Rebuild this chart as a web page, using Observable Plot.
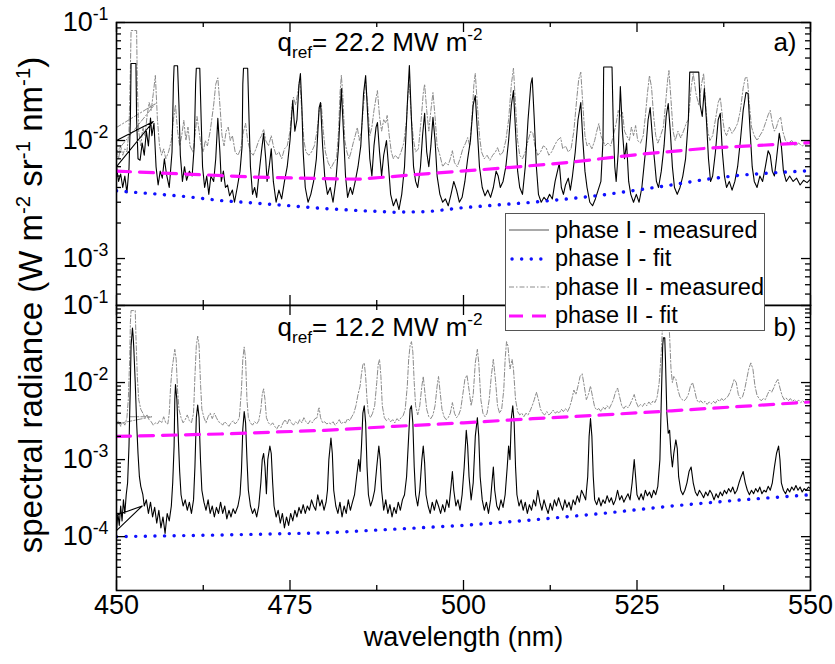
<!DOCTYPE html>
<html>
<head>
<meta charset="utf-8">
<script src="https://cdn.jsdelivr.net/npm/d3@7"></script>
<script src="https://cdn.jsdelivr.net/npm/@observablehq/plot@0.6"></script>
<style>
  html, body { margin: 0; padding: 0; background: #fff; }
  #chart { position: relative; width: 835px; height: 664px; font-family: "Liberation Sans", Arial, sans-serif; color: #000; overflow: hidden; }
  #chart svg { position: absolute; left: 0; font-family: "Liberation Sans", Arial, sans-serif; }
  #ytitle { position: absolute; left: 30px; top: 305px; transform: translate(-50%, -50%) rotate(-90deg); white-space: nowrap; font-size: 33px; line-height: 1; }
  #ytitle sup { font-size: 0.62em; vertical-align: 0.6em; }
  #legend { position: absolute; left: 505px; top: 213px; width: 260px; height: 118px; background: #fff; border: 1px solid #555; box-sizing: border-box; font-size: 23.5px; }
  .lrow { position: absolute; left: 0; height: 28px; display: flex; align-items: center; white-space: nowrap; }
  .lrow svg { position: static !important; margin-left: 3px; margin-right: 6px; }
</style>
</head>
<body>
<div id="chart"></div>
<script>
// ---------------- data ----------------
const xTickLabels = [450, 475, 500, 525, 550];
const xMinorTicks = [462.5, 487.5, 512.5, 537.5];
const yTicksTop = [1e-3, 1e-2, 1e-1];
const yTicksBottom = [1e-4, 1e-3, 1e-2, 1e-1];
const yDomainTop = [4e-4, 1e-1];
const yDomainBottom = [2e-5, 1e-1];
const seriesNames = ["phase I - measured", "phase I - fit", "phase II - measured", "phase II - fit"];
const panelLabels = ["a)", "b)"];
const fluxLabels = ["q_{ref}= 22.2 MW m^{-2}", "q_{ref}= 12.2 MW m^{-2}"];
const xTitle = "wavelength (nm)";

// panel a) phase I measured [wavelength nm, radiance]
const topPhaseI = [[450.0,0.0100],[455.3,0.0145],
[450.0,0.0060],[450.3,0.0045],[450.6,0.0052],[450.9,0.0040],[451.2,0.0050],[451.5,0.0036],[451.8,0.0058],[452.0,0.0150],[452.1,0.045],[452.8,0.045],[452.9,0.015],[453.1,0.0070],[453.4,0.0068],[453.7,0.0095],[454.0,0.0075],[454.3,0.0120],[454.6,0.0090],[454.9,0.0155],[455.1,0.0110],[455.4,0.0140],[455.7,0.0060],[456.0,0.0042],[456.3,0.0055],[456.6,0.0048],[456.9,0.0070],[457.2,0.0052],[457.6,0.0040],[458.0,0.0080],[458.2,0.030],[458.3,0.043],[458.8,0.043],[459.0,0.020],[459.2,0.0075],[459.5,0.0045],[459.8,0.0060],[460.1,0.0046],[460.5,0.0055],[460.9,0.0050],[461.2,0.0090],[461.4,0.030],[461.5,0.041],[462.0,0.041],[462.2,0.015],[462.4,0.0060],[462.7,0.0040],[463.0,0.0050],[463.3,0.0035],[463.6,0.0050],[464.0,0.0045],[464.3,0.0070],[464.6,0.0154],[464.9,0.0080],[465.1,0.0045],[465.4,0.0055],[465.7,0.0040],[466.0,0.0042],[466.3,0.0034],[466.7,0.0038],[467.0,0.0030],[467.4,0.0040],[467.8,0.0055],[468.1,0.0090],[468.2,0.030],[468.3,0.041],[468.9,0.041],[469.1,0.015],[469.3,0.0060],[469.6,0.0035],[469.9,0.0040],[470.2,0.0033],[470.5,0.0050],[470.9,0.0082],[471.2,0.0115],[471.5,0.0070],[471.7,0.0045],[472.0,0.0060],[472.3,0.0085],[472.6,0.0045],[473.0,0.0030],[473.4,0.0038],[473.8,0.0032],[474.2,0.0045],[474.6,0.0060],[475.0,0.0100],[475.4,0.0218],[475.7,0.0120],[476.0,0.0150],[476.3,0.0300],[476.5,0.0370],[476.7,0.0200],[476.9,0.0080],[477.2,0.0040],[477.6,0.0030],[478.0,0.0035],[478.4,0.0045],[478.8,0.0070],[479.2,0.0190],[479.4,0.0210],[479.7,0.0090],[480.0,0.0050],[480.4,0.0035],[480.8,0.0040],[481.2,0.0030],[481.6,0.0045],[482.0,0.0090],[482.4,0.0275],[482.7,0.0120],[483.0,0.0050],[483.3,0.0033],[483.7,0.0040],[484.0,0.0035],[484.4,0.0045],[484.8,0.0060],[485.2,0.0090],[485.6,0.0250],[485.9,0.0355],[486.2,0.0160],[486.5,0.0070],[486.8,0.0050],[487.1,0.0090],[487.4,0.0130],[487.6,0.0142],[487.9,0.0080],[488.2,0.0050],[488.5,0.0075],[488.9,0.0100],[489.2,0.0060],[489.5,0.0035],[489.9,0.0028],[490.3,0.0032],[490.7,0.0026],[491.1,0.0035],[491.5,0.0060],[491.9,0.0200],[492.2,0.0432],[492.5,0.0150],[492.8,0.0060],[493.1,0.0045],[493.4,0.0040],[493.8,0.0060],[494.1,0.0110],[494.4,0.0170],[494.7,0.0080],[495.0,0.0060],[495.3,0.0090],[495.6,0.0157],[495.9,0.0100],[496.2,0.0050],[496.6,0.0035],[497.0,0.0030],[497.4,0.0032],[497.8,0.0028],[498.2,0.0035],[498.6,0.0045],[499.0,0.0038],[499.4,0.0030],[499.8,0.0033],[500.2,0.0045],[500.6,0.0070],[501.0,0.0100],[501.4,0.0200],[501.7,0.0240],[502.0,0.0120],[502.3,0.0060],[502.7,0.0040],[503.1,0.0034],[503.5,0.0038],[503.9,0.0033],[504.3,0.0040],[504.7,0.0055],[505.0,0.0050],[505.3,0.0040],[505.7,0.0045],[506.1,0.0060],[506.5,0.0100],[506.9,0.0200],[507.2,0.0265],[507.5,0.0120],[507.8,0.0055],[508.1,0.0040],[508.5,0.0035],[508.9,0.0060],[509.3,0.0150],[509.7,0.0300],[509.9,0.0340],[510.2,0.0150],[510.5,0.0060],[510.8,0.0035],[511.2,0.0030],[511.6,0.0033],[512.0,0.0031],[512.4,0.0035],[512.8,0.0032],[513.2,0.0045],[513.8,0.0064],[514.1,0.0040],[514.4,0.0035],[514.7,0.0042],[515.1,0.0048],[515.4,0.0038],[515.7,0.0050],[516.1,0.0080],[516.5,0.0150],[516.9,0.0210],[517.2,0.0100],[517.5,0.0055],[517.8,0.0040],[518.2,0.0030],[518.6,0.0028],[519.0,0.0032],[519.4,0.0038],[519.8,0.0045],[520.1,0.0100],[520.2,0.0420],[521.4,0.0420],[521.6,0.0120],[521.8,0.0060],[522.0,0.0045],[522.3,0.0080],[522.6,0.0287],[522.9,0.0120],[523.2,0.0070],[523.5,0.0095],[523.8,0.0045],[524.1,0.0035],[524.5,0.0030],[524.9,0.0035],[525.3,0.0030],[525.7,0.0040],[526.0,0.0060],[526.3,0.0090],[526.6,0.0150],[526.9,0.0190],[527.2,0.0110],[527.5,0.0070],[527.8,0.0045],[528.1,0.0040],[528.5,0.0055],[528.9,0.0090],[529.2,0.0160],[529.5,0.0206],[529.8,0.0120],[530.1,0.0060],[530.4,0.0040],[530.8,0.0035],[531.2,0.0040],[531.6,0.0050],[532.0,0.0070],[532.4,0.0150],[532.6,0.0380],[533.9,0.0380],[534.1,0.0200],[534.4,0.0160],[534.7,0.0275],[535.0,0.0150],[535.3,0.0070],[535.6,0.0045],[535.9,0.0050],[536.3,0.0080],[536.7,0.0150],[537.0,0.0170],[537.3,0.0080],[537.6,0.0050],[537.9,0.0040],[538.3,0.0045],[538.7,0.0038],[539.1,0.0045],[539.5,0.0060],[539.9,0.0100],[540.3,0.0180],[540.7,0.0255],[541.0,0.0250],[541.3,0.0120],[541.6,0.0060],[541.9,0.0045],[542.3,0.0040],[542.7,0.0050],[543.1,0.0045],[543.5,0.0060],[543.9,0.0082],[544.2,0.0075],[544.5,0.0055],[544.8,0.0050],[545.1,0.0070],[545.5,0.0115],[545.8,0.0090],[546.1,0.0055],[546.5,0.0045],[547.0,0.0050],[547.5,0.0045],[548.0,0.0048],[548.5,0.0042],[549.0,0.0046],[549.5,0.0044],[550.0,0.0047]];

// panel a) phase II measured
const topPhaseII = [[450.0,0.0129],[455.6,0.0205],
[450.0,0.0080],[450.3,0.0070],[450.6,0.0090],[450.9,0.0075],[451.2,0.0085],[451.5,0.0080],[451.8,0.0120],[452.0,0.0400],[452.1,0.0855],[452.9,0.0855],[453.0,0.0300],[453.2,0.0120],[453.5,0.0090],[453.8,0.0130],[454.1,0.0110],[454.4,0.0160],[454.7,0.0210],[455.0,0.0180],[455.3,0.0250],[455.6,0.0356],[455.9,0.0150],[456.2,0.0090],[456.5,0.0075],[456.8,0.0085],[457.1,0.0070],[457.5,0.0080],[457.9,0.0100],[458.2,0.0150],[458.5,0.0200],[458.8,0.0120],[459.1,0.0090],[459.4,0.0110],[459.7,0.0148],[460.0,0.0100],[460.3,0.0130],[460.6,0.0090],[461.0,0.0080],[461.3,0.0110],[461.6,0.0160],[461.9,0.0120],[462.2,0.0090],[462.5,0.0080],[462.8,0.0100],[463.1,0.0090],[463.5,0.0120],[464.0,0.0200],[464.3,0.0300],[464.6,0.0340],[464.9,0.0200],[465.2,0.0110],[465.5,0.0090],[465.8,0.0120],[466.1,0.0130],[466.4,0.0100],[466.7,0.0110],[467.1,0.0080],[467.5,0.0075],[467.9,0.0085],[468.3,0.0120],[468.6,0.0140],[468.9,0.0100],[469.3,0.0080],[469.7,0.0075],[470.1,0.0085],[470.5,0.0100],[470.9,0.0110],[471.2,0.0125],[471.5,0.0100],[471.9,0.0090],[472.3,0.0110],[472.6,0.0090],[473.0,0.0075],[473.4,0.0080],[473.8,0.0070],[474.2,0.0085],[474.6,0.0090],[475.0,0.0120],[475.3,0.0200],[475.5,0.0233],[475.8,0.0200],[476.1,0.0250],[476.4,0.0330],[476.7,0.0180],[477.0,0.0100],[477.3,0.0080],[477.7,0.0075],[478.1,0.0080],[478.5,0.0090],[478.9,0.0120],[479.2,0.0180],[479.5,0.0206],[479.8,0.0120],[480.1,0.0080],[480.5,0.0065],[480.9,0.0058],[481.3,0.0065],[481.7,0.0070],[482.0,0.0120],[482.2,0.0250],[482.4,0.0356],[482.6,0.0250],[482.9,0.0100],[483.2,0.0080],[483.5,0.0070],[483.8,0.0080],[484.1,0.0095],[484.4,0.0110],[484.7,0.0129],[485.0,0.0100],[485.3,0.0120],[485.6,0.0200],[485.9,0.0310],[486.2,0.0200],[486.5,0.0110],[486.8,0.0130],[487.1,0.0180],[487.4,0.0230],[487.6,0.0265],[487.9,0.0160],[488.2,0.0120],[488.5,0.0150],[488.8,0.0140],[489.0,0.0163],[489.3,0.0110],[489.6,0.0080],[489.9,0.0070],[490.2,0.0075],[490.6,0.0070],[491.0,0.0080],[491.4,0.0095],[491.8,0.0150],[492.0,0.0250],[492.2,0.0300],[492.5,0.0150],[492.8,0.0100],[493.1,0.0080],[493.5,0.0085],[493.9,0.0150],[494.2,0.0250],[494.4,0.0300],[494.7,0.0180],[495.0,0.0120],[495.3,0.0180],[495.6,0.0255],[495.9,0.0160],[496.2,0.0090],[496.6,0.0075],[497.0,0.0060],[497.4,0.0065],[497.8,0.0062],[498.1,0.0070],[498.4,0.0082],[498.7,0.0065],[499.1,0.0060],[499.5,0.0070],[499.9,0.0085],[500.3,0.0095],[500.6,0.0106],[500.9,0.0090],[501.2,0.0150],[501.5,0.0300],[501.7,0.0370],[502.0,0.0200],[502.3,0.0110],[502.6,0.0080],[503.0,0.0070],[503.4,0.0075],[503.8,0.0068],[504.2,0.0075],[504.6,0.0080],[504.9,0.0087],[505.3,0.0075],[505.7,0.0080],[506.1,0.0100],[506.5,0.0150],[506.9,0.0300],[507.2,0.0410],[507.5,0.0200],[507.8,0.0100],[508.1,0.0075],[508.5,0.0070],[508.9,0.0080],[509.3,0.0100],[509.7,0.0120],[510.0,0.0115],[510.3,0.0090],[510.7,0.0075],[511.1,0.0080],[511.5,0.0090],[511.9,0.0087],[512.3,0.0075],[512.7,0.0080],[513.1,0.0090],[513.5,0.0100],[514.0,0.0106],[514.3,0.0085],[514.7,0.0090],[515.1,0.0080],[515.5,0.0085],[515.9,0.0120],[516.3,0.0220],[516.6,0.0330],[516.9,0.0380],[517.2,0.0200],[517.5,0.0110],[517.8,0.0090],[518.1,0.0095],[518.5,0.0085],[518.9,0.0100],[519.2,0.0120],[519.5,0.0139],[519.8,0.0110],[520.1,0.0100],[520.4,0.0090],[520.8,0.0095],[521.2,0.0090],[521.6,0.0110],[522.0,0.0140],[522.3,0.0180],[522.6,0.0160],[522.9,0.0174],[523.2,0.0120],[523.5,0.0110],[523.9,0.0100],[524.2,0.0130],[524.5,0.0110],[524.8,0.0134],[525.1,0.0100],[525.5,0.0095],[525.9,0.0110],[526.2,0.0160],[526.5,0.0250],[526.8,0.0356],[527.1,0.0280],[527.4,0.0160],[527.7,0.0110],[528.0,0.0095],[528.4,0.0110],[528.8,0.0130],[529.1,0.0200],[529.4,0.0320],[529.6,0.0392],[529.9,0.0220],[530.2,0.0120],[530.5,0.0100],[530.9,0.0120],[531.3,0.0105],[531.7,0.0120],[532.1,0.0140],[532.4,0.0150],[532.8,0.0280],[533.1,0.0370],[533.5,0.0250],[533.9,0.0200],[534.3,0.0300],[534.6,0.0370],[534.9,0.0200],[535.2,0.0120],[535.5,0.0100],[535.9,0.0110],[536.3,0.0150],[536.7,0.0210],[537.0,0.0232],[537.3,0.0160],[537.6,0.0120],[537.9,0.0110],[538.3,0.0130],[538.7,0.0115],[539.1,0.0125],[539.5,0.0140],[539.9,0.0180],[540.3,0.0280],[540.6,0.0340],[540.9,0.0340],[541.2,0.0200],[541.5,0.0130],[541.9,0.0110],[542.3,0.0100],[542.7,0.0110],[543.1,0.0120],[543.5,0.0140],[543.9,0.0165],[544.2,0.0180],[544.5,0.0140],[544.8,0.0120],[545.1,0.0130],[545.4,0.0150],[545.7,0.0157],[546.0,0.0120],[546.4,0.0100],[546.8,0.0095],[547.3,0.0100],[547.8,0.0090],[548.3,0.0095],[548.8,0.0090],[549.3,0.0093],[550.0,0.0095]];

const topFitI = [[450,3.75e-3],[455,3.55e-3],[460,3.35e-3],[465,3.1e-3],[470,2.95e-3],[475,2.8e-3],[480,2.65e-3],[485,2.55e-3],[490,2.47e-3],[495,2.5e-3],[500,2.7e-3],[505,2.85e-3],[510,3.0e-3],[515,3.2e-3],[520,3.45e-3],[525,3.8e-3],[530,4.2e-3],[535,4.7e-3],[540,5.1e-3],[545,5.35e-3],[550,5.55e-3]];
const topFitII = [[450,5.5e-3],[460,5.2e-3],[470,4.9e-3],[480,4.75e-3],[485,4.7e-3],[495,5.25e-3],[505,5.8e-3],[515,6.5e-3],[525,7.6e-3],[535,8.6e-3],[550,9.6e-3]];

// panel b) phase I measured
const botPhaseI = [[450.0,0.00019],[453.7,0.00025],
[450.0,0.00012],[450.2,0.00020],[450.4,0.00014],[450.6,0.00025],[450.8,0.00016],[451.0,0.00030],[451.2,0.00020],[451.4,0.00035],[451.6,0.00050],[451.8,0.0015],[452.0,0.010],[452.1,0.030],[452.3,0.051],[452.4,0.040],[452.5,0.027],[452.7,0.010],[452.9,0.0030],[453.1,0.0012],[453.3,0.0006],[453.5,0.00045],[453.8,0.00035],[454.0,0.00025],[454.3,0.00030],[454.6,0.00020],[454.9,0.00028],[455.2,0.00018],[455.5,0.00024],[455.8,0.00015],[456.1,0.00022],[456.4,0.00013],[456.7,0.00018],[457.0,0.00011],[457.3,0.00020],[457.6,0.00016],[457.9,0.00025],[458.1,0.00050],[458.3,0.0015],[458.4,0.0060],[458.5,0.0094],[458.7,0.0060],[458.9,0.0020],[459.1,0.0007],[459.3,0.00035],[459.6,0.00025],[459.9,0.00030],[460.2,0.00022],[460.5,0.00028],[460.8,0.00020],[461.1,0.00030],[461.3,0.0008],[461.5,0.0035],[461.7,0.0051],[461.9,0.0035],[462.1,0.0010],[462.3,0.00040],[462.6,0.00028],[462.9,0.00022],[463.2,0.00030],[463.5,0.00020],[463.8,0.00025],[464.1,0.00018],[464.4,0.00024],[464.7,0.00020],[465.0,0.00028],[465.3,0.00020],[465.6,0.00025],[465.9,0.00017],[466.2,0.00022],[466.5,0.00018],[466.8,0.00023],[467.1,0.00020],[467.5,0.00025],[467.8,0.00035],[468.0,0.0007],[468.2,0.0025],[468.4,0.0042],[468.6,0.0030],[468.8,0.0010],[469.0,0.00040],[469.3,0.00025],[469.6,0.00020],[469.9,0.00023],[470.2,0.00018],[470.5,0.00025],[470.8,0.00050],[471.0,0.0010],[471.2,0.0012],[471.4,0.0008],[471.6,0.00036],[471.8,0.0010],[472.1,0.0015],[472.3,0.0012],[472.5,0.0005],[472.7,0.00025],[473.0,0.00018],[473.3,0.00022],[473.6,0.00015],[473.9,0.00020],[474.2,0.00013],[474.5,0.00018],[474.8,0.00014],[475.1,0.00020],[475.4,0.00016],[475.7,0.00022],[476.0,0.00018],[476.3,0.00024],[476.6,0.00020],[476.9,0.00026],[477.2,0.00020],[477.5,0.00025],[477.8,0.00022],[478.1,0.00030],[478.4,0.00025],[478.7,0.00022],[479.0,0.00035],[479.3,0.00025],[479.6,0.00030],[479.9,0.00022],[480.2,0.00028],[480.4,0.00040],[480.6,0.0010],[480.9,0.0019],[481.1,0.0012],[481.3,0.00040],[481.6,0.00025],[481.9,0.00020],[482.2,0.00028],[482.5,0.00018],[482.8,0.00025],[483.1,0.00020],[483.4,0.00030],[483.7,0.00022],[484.0,0.00028],[484.3,0.00035],[484.6,0.0006],[484.9,0.0010],[485.1,0.0007],[485.3,0.0015],[485.5,0.0040],[485.7,0.0050],[485.9,0.0030],[486.1,0.0008],[486.3,0.00035],[486.6,0.00025],[486.9,0.00030],[487.2,0.00040],[487.5,0.0008],[487.8,0.0015],[488.0,0.0010],[488.2,0.00040],[488.5,0.00022],[488.8,0.00030],[489.1,0.00020],[489.4,0.00026],[489.7,0.00018],[490.0,0.00024],[490.3,0.00020],[490.6,0.00028],[490.9,0.00022],[491.2,0.00030],[491.5,0.00035],[491.8,0.0006],[492.1,0.0020],[492.3,0.0045],[492.5,0.0050],[492.7,0.0030],[492.9,0.0008],[493.1,0.00035],[493.4,0.00025],[493.7,0.00040],[494.0,0.0010],[494.2,0.0015],[494.4,0.0009],[494.6,0.00035],[494.9,0.00025],[495.2,0.00020],[495.5,0.00028],[495.8,0.00022],[496.1,0.00030],[496.4,0.00025],[496.7,0.00020],[497.0,0.00026],[497.3,0.00021],[497.6,0.00030],[497.9,0.00024],[498.2,0.00045],[498.4,0.0007],[498.6,0.00040],[498.9,0.00025],[499.2,0.00030],[499.5,0.00022],[499.8,0.00035],[500.1,0.0008],[500.4,0.0024],[500.6,0.0015],[500.8,0.0006],[501.1,0.00030],[501.4,0.00050],[501.7,0.0020],[502.0,0.0035],[502.2,0.0020],[502.4,0.0006],[502.7,0.00030],[503.0,0.00022],[503.3,0.00028],[503.6,0.00020],[503.9,0.00030],[504.1,0.0005],[504.3,0.0008],[504.5,0.0004],[504.8,0.00025],[505.1,0.00022],[505.4,0.00030],[505.7,0.00024],[506.0,0.00035],[506.3,0.0008],[506.5,0.0015],[506.7,0.0010],[506.9,0.0035],[507.1,0.0050],[507.3,0.0030],[507.5,0.0008],[507.7,0.00035],[508.0,0.00025],[508.3,0.00030],[508.6,0.00022],[508.9,0.00028],[509.2,0.00020],[509.5,0.00026],[509.8,0.00022],[510.1,0.00030],[510.4,0.00025],[510.7,0.00040],[511.0,0.00028],[511.3,0.00022],[511.6,0.00030],[511.9,0.00024],[512.2,0.00020],[512.5,0.00027],[512.8,0.00022],[513.1,0.00030],[513.4,0.00025],[513.7,0.00032],[514.0,0.00026],[514.3,0.00022],[514.6,0.00030],[514.9,0.00024],[515.2,0.00028],[515.5,0.00022],[515.8,0.00030],[516.1,0.00026],[516.4,0.00034],[516.7,0.00028],[517.0,0.00040],[517.3,0.00035],[517.6,0.00030],[517.9,0.0006],[518.1,0.0020],[518.3,0.0034],[518.5,0.0020],[518.7,0.0006],[518.9,0.00030],[519.2,0.00026],[519.5,0.00032],[519.8,0.00025],[520.1,0.00030],[520.4,0.00027],[520.7,0.00034],[521.0,0.00028],[521.3,0.00032],[521.6,0.00026],[521.9,0.00030],[522.2,0.00040],[522.5,0.00030],[522.8,0.00034],[523.1,0.00028],[523.4,0.00032],[523.7,0.00036],[524.0,0.00030],[524.3,0.0005],[524.6,0.0010],[524.8,0.0006],[525.0,0.00035],[525.3,0.00030],[525.6,0.00036],[525.9,0.00030],[526.2,0.00040],[526.5,0.00034],[526.8,0.00038],[527.1,0.00032],[527.4,0.00040],[527.7,0.00035],[528.0,0.00045],[528.3,0.0010],[528.5,0.006],[528.7,0.030],[528.8,0.038],[529.0,0.038],[529.1,0.020],[529.3,0.004],[529.5,0.0022],[529.7,0.0024],[529.9,0.0012],[530.1,0.0008],[530.3,0.0012],[530.6,0.0018],[530.8,0.0014],[531.0,0.0006],[531.3,0.00040],[531.6,0.00035],[531.9,0.00040],[532.2,0.0005],[532.5,0.0007],[532.8,0.0008],[533.1,0.0005],[533.4,0.00038],[533.7,0.00034],[534.0,0.00040],[534.3,0.00036],[534.6,0.00032],[534.9,0.00038],[535.2,0.00034],[535.5,0.00040],[535.8,0.00036],[536.1,0.00030],[536.4,0.00036],[536.7,0.00032],[537.0,0.00038],[537.3,0.00034],[537.6,0.00040],[537.9,0.00036],[538.2,0.00042],[538.5,0.00038],[538.8,0.00044],[539.1,0.00036],[539.4,0.00040],[539.7,0.0005],[540.0,0.0006],[540.3,0.0007],[540.6,0.0005],[540.9,0.00040],[541.2,0.00035],[541.5,0.00040],[541.8,0.00036],[542.1,0.00042],[542.4,0.00038],[542.7,0.00044],[543.0,0.00036],[543.3,0.00040],[543.6,0.00038],[543.9,0.00045],[544.2,0.00040],[544.5,0.0005],[544.8,0.0008],[545.1,0.0012],[545.4,0.0015],[545.6,0.0010],[545.8,0.0005],[546.1,0.00040],[546.4,0.00036],[546.7,0.00042],[547.0,0.00038],[547.3,0.00044],[547.6,0.00040],[547.9,0.00046],[548.2,0.00040],[548.5,0.00044],[548.8,0.00038],[549.1,0.00042],[549.4,0.00040],[549.7,0.00044],[550.0,0.00042]];

// panel b) phase II measured
const botPhaseII = [[452.0,0.0036],[455.1,0.0036],
[450.0,0.0029],[450.3,0.0032],[450.6,0.0027],[450.9,0.0031],[451.2,0.0028],[451.5,0.0035],[451.7,0.0060],[451.9,0.020],[452.0,0.060],[452.1,0.086],[452.7,0.086],[452.8,0.040],[453.0,0.012],[453.2,0.0060],[453.5,0.0045],[453.8,0.0040],[454.1,0.0035],[454.4,0.0038],[454.7,0.0033],[455.0,0.0031],[455.3,0.0028],[455.6,0.0030],[455.9,0.0029],[456.2,0.0032],[456.5,0.0030],[456.8,0.0036],[457.1,0.0030],[457.4,0.0029],[457.6,0.0040],[457.8,0.0090],[458.0,0.0148],[458.2,0.020],[458.4,0.027],[458.6,0.020],[458.8,0.0080],[459.0,0.0045],[459.3,0.0035],[459.6,0.0030],[459.9,0.0033],[460.2,0.0038],[460.5,0.0032],[460.8,0.0030],[461.1,0.0040],[461.3,0.0120],[461.5,0.030],[461.7,0.040],[461.9,0.030],[462.1,0.010],[462.3,0.0045],[462.6,0.0035],[462.9,0.0030],[463.2,0.0036],[463.5,0.0040],[463.8,0.0034],[464.1,0.0040],[464.4,0.0035],[464.7,0.0031],[465.0,0.0030],[465.3,0.0028],[465.6,0.0031],[465.9,0.0029],[466.2,0.0027],[466.5,0.0030],[466.8,0.0032],[467.1,0.0029],[467.4,0.0031],[467.7,0.0035],[468.0,0.0080],[468.2,0.020],[468.4,0.029],[468.6,0.020],[468.8,0.0060],[469.0,0.0035],[469.3,0.0030],[469.6,0.0028],[469.9,0.0031],[470.2,0.0029],[470.5,0.0032],[470.8,0.0045],[471.0,0.0070],[471.2,0.0083],[471.4,0.0060],[471.6,0.0035],[471.9,0.0030],[472.2,0.0028],[472.5,0.0030],[472.8,0.0027],[473.1,0.0025],[473.4,0.0028],[473.7,0.0026],[474.0,0.0030],[474.3,0.0033],[474.6,0.0029],[474.9,0.0034],[475.2,0.0030],[475.5,0.0028],[475.8,0.0031],[476.1,0.0029],[476.4,0.0033],[476.7,0.0030],[477.0,0.0035],[477.3,0.0031],[477.6,0.0029],[477.9,0.0032],[478.2,0.0030],[478.6,0.0034],[478.9,0.0035],[479.1,0.0045],[479.2,0.0047],[479.4,0.0035],[479.7,0.0030],[480.0,0.0031],[480.3,0.0029],[480.6,0.0030],[480.9,0.0029],[481.2,0.0031],[481.5,0.0028],[481.8,0.0030],[482.1,0.0033],[482.4,0.0029],[482.7,0.0031],[483.0,0.0030],[483.3,0.0034],[483.6,0.0032],[483.9,0.0036],[484.2,0.0040],[484.5,0.0050],[484.8,0.0070],[485.1,0.0090],[485.3,0.0130],[485.5,0.0170],[485.7,0.0180],[485.9,0.0120],[486.1,0.0060],[486.3,0.0040],[486.6,0.0035],[486.9,0.0040],[487.2,0.0050],[487.5,0.0100],[487.7,0.0170],[487.9,0.0200],[488.1,0.0120],[488.3,0.0050],[488.6,0.0035],[488.9,0.0032],[489.2,0.0034],[489.5,0.0031],[489.8,0.0033],[490.1,0.0030],[490.4,0.0034],[490.7,0.0032],[491.0,0.0035],[491.3,0.0037],[491.6,0.0045],[491.9,0.0090],[492.1,0.0200],[492.3,0.0300],[492.5,0.0340],[492.7,0.0250],[492.9,0.0100],[493.1,0.0050],[493.4,0.0038],[493.7,0.0050],[494.0,0.0090],[494.2,0.0120],[494.4,0.0080],[494.7,0.0045],[495.0,0.0036],[495.3,0.0034],[495.6,0.0038],[495.9,0.0050],[496.2,0.0090],[496.4,0.0120],[496.6,0.0080],[496.9,0.0045],[497.2,0.0036],[497.5,0.0033],[497.8,0.0035],[498.1,0.0040],[498.4,0.0055],[498.7,0.0040],[499.0,0.0035],[499.3,0.0038],[499.6,0.0045],[499.9,0.0070],[500.2,0.0110],[500.5,0.0125],[500.8,0.0080],[501.1,0.0050],[501.4,0.0070],[501.7,0.0180],[502.0,0.0270],[502.2,0.0180],[502.5,0.0060],[502.8,0.0040],[503.1,0.0036],[503.4,0.0040],[503.7,0.0060],[504.0,0.0120],[504.3,0.0200],[504.6,0.0110],[504.9,0.0050],[505.2,0.0040],[505.5,0.0045],[505.8,0.0080],[506.0,0.0200],[506.2,0.0340],[506.4,0.0300],[506.7,0.0150],[507.0,0.0200],[507.2,0.0150],[507.5,0.0060],[507.8,0.0042],[508.1,0.0038],[508.4,0.0040],[508.7,0.0036],[509.0,0.0040],[509.3,0.0038],[509.6,0.0043],[509.9,0.0050],[510.2,0.0060],[510.5,0.0075],[510.8,0.0060],[511.1,0.0045],[511.4,0.0040],[511.7,0.0038],[512.0,0.0042],[512.3,0.0038],[512.6,0.0040],[512.9,0.0044],[513.2,0.0040],[513.5,0.0042],[513.8,0.0040],[514.1,0.0045],[514.4,0.0042],[514.7,0.0046],[515.0,0.0042],[515.3,0.0048],[515.6,0.0060],[515.9,0.0080],[516.2,0.0070],[516.5,0.0090],[516.8,0.0120],[517.1,0.0130],[517.4,0.0090],[517.7,0.0060],[518.0,0.0070],[518.3,0.0090],[518.6,0.0065],[518.9,0.0048],[519.2,0.0044],[519.5,0.0046],[519.8,0.0042],[520.1,0.0048],[520.4,0.0045],[520.7,0.0050],[521.0,0.0046],[521.3,0.0052],[521.6,0.0060],[521.9,0.0075],[522.2,0.0085],[522.5,0.0065],[522.8,0.0050],[523.1,0.0046],[523.4,0.0050],[523.7,0.0047],[524.0,0.0052],[524.3,0.0060],[524.6,0.0070],[524.9,0.0055],[525.2,0.0048],[525.5,0.0052],[525.8,0.0049],[526.1,0.0054],[526.4,0.0050],[526.7,0.0056],[527.0,0.0052],[527.3,0.0058],[527.6,0.0055],[527.9,0.0065],[528.2,0.0100],[528.5,0.0250],[528.7,0.0600],[528.9,0.0800],[529.5,0.0800],[529.7,0.0400],[529.9,0.0150],[530.1,0.0100],[530.3,0.0120],[530.6,0.0110],[530.9,0.0080],[531.2,0.0065],[531.5,0.0060],[531.8,0.0058],[532.1,0.0062],[532.4,0.0070],[532.7,0.0090],[533.0,0.0100],[533.3,0.0080],[533.6,0.0060],[533.9,0.0055],[534.2,0.0058],[534.5,0.0054],[534.8,0.0057],[535.1,0.0052],[535.4,0.0056],[535.7,0.0053],[536.0,0.0057],[536.3,0.0054],[536.6,0.0060],[536.9,0.0057],[537.2,0.0062],[537.5,0.0058],[537.8,0.0063],[538.1,0.0066],[538.4,0.0075],[538.7,0.0090],[539.0,0.0110],[539.3,0.0100],[539.6,0.0070],[539.9,0.0062],[540.2,0.0065],[540.5,0.0080],[540.8,0.0110],[541.1,0.0150],[541.4,0.0180],[541.7,0.0150],[542.0,0.0090],[542.3,0.0068],[542.6,0.0062],[542.9,0.0058],[543.2,0.0062],[543.5,0.0060],[543.8,0.0070],[544.1,0.0080],[544.4,0.0075],[544.7,0.0085],[545.0,0.0100],[545.3,0.0110],[545.6,0.0085],[545.9,0.0068],[546.2,0.0060],[546.5,0.0063],[546.8,0.0058],[547.1,0.0062],[547.4,0.0057],[547.7,0.0060],[548.0,0.0056],[548.3,0.0059],[548.6,0.0055],[548.9,0.0058],[549.2,0.0054],[549.5,0.0057],[550.0,0.0055]];

const botFitI = [[450,1.0e-4],[465,1.05e-4],[480,1.12e-4],[490,1.25e-4],[500,1.4e-4],[510,1.65e-4],[520,2.0e-4],[530,2.5e-4],[540,3.0e-4],[550,3.5e-4]];
const botFitII = [[450,2.0e-3],[465,2.15e-3],[480,2.4e-3],[490,2.7e-3],[500,3.0e-3],[510,3.4e-3],[520,3.8e-3],[530,4.3e-3],[540,4.9e-3],[550,5.6e-3]];

// ---------------- styles ----------------
const S = {
  m1: {stroke: "#000", strokeWidth: 1.1},
  f1: {stroke: "#1010ff", strokeWidth: 3.4, strokeDasharray: "0.1 9.5", strokeLinecap: "round"},
  m2: {stroke: "#8c8c8c", strokeWidth: 1, strokeDasharray: "5 2 1.5 2"},
  f2: {stroke: "#ff10ff", strokeWidth: 3.2, strokeDasharray: "14 9"}
};
const W = 835, ML = 116, MR = 25;
const FONT = "Liberation Sans, Arial, sans-serif";
const PW = W - ML - MR;

function minorLog(domain) {
  const out = [];
  for (let k = -6; k <= 0; k++) for (let m = 2; m <= 9; m++) {
    const v = m * Math.pow(10, k);
    if (v > domain[0] * 1.0001 && v < domain[1]) out.push(v);
  }
  return out;
}

function frameTicks(yMajor, yDomain, ph) {
  const yMinor = minorLog(yDomain);
  const t = {stroke: "#000", strokeWidth: 1.3};
  return [
    Plot.tickX(xTickLabels, {x: d => d, insetBottom: ph - 10, ...t}),
    Plot.tickX(xTickLabels, {x: d => d, insetTop: ph - 10, ...t}),
    Plot.tickX(xMinorTicks, {x: d => d, insetBottom: ph - 5, ...t}),
    Plot.tickX(xMinorTicks, {x: d => d, insetTop: ph - 5, ...t}),
    Plot.tickY(yMajor, {y: d => d, insetRight: PW - 9, ...t}),
    Plot.tickY(yMajor, {y: d => d, insetLeft: PW - 9, ...t}),
    Plot.tickY(yMinor, {y: d => d, insetRight: PW - 5, ...t}),
    Plot.tickY(yMinor, {y: d => d, insetLeft: PW - 5, ...t})
  ];
}

function seriesMarks(m1, f1, m2, f2) {
  const xy = {x: d => d[0], y: d => d[1], clip: true};
  return [
    Plot.line(m2, {...xy, ...S.m2}),
    Plot.line(m1, {...xy, ...S.m1}),
    Plot.line(f1, {...xy, ...S.f1}),
    Plot.line(f2, {...xy, ...S.f2})
  ];
}

const expFormat = d => `10^{${Math.round(Math.log10(d))}}`;

// top panel: frame y 22..305
const topPlot = Plot.plot({
  width: W, height: 306,
  marginLeft: ML, marginRight: MR, marginTop: 22, marginBottom: 1,
  style: {fontFamily: FONT, background: "transparent"},
  x: {domain: [450, 550], axis: null},
  y: {type: "log", domain: yDomainTop},
  marks: [
    ...seriesMarks(topPhaseI, topFitI, topPhaseII, topFitII),
    ...frameTicks(yTicksTop, yDomainTop, 283),
    Plot.frame({stroke: "#000", strokeWidth: 1.6}),
    Plot.axisY({ticks: yTicksTop, tickSize: 0, tickPadding: 8, fontSize: 27, label: null, tickFormat: expFormat}),
    Plot.text([fluxLabels[0]], {text: d => d, frameAnchor: "top-left", dx: 161, dy: 10, textAnchor: "start", fontSize: 26}),
    Plot.text([panelLabels[0]], {text: d => d, frameAnchor: "top-right", dx: -14, dy: 10, textAnchor: "end", fontSize: 26})
  ]
});

// bottom panel: svg at page y 278, frame y 305..590
const bottomPlot = Plot.plot({
  width: W, height: 386,
  marginLeft: ML, marginRight: MR, marginTop: 27, marginBottom: 74,
  style: {fontFamily: FONT, background: "transparent"},
  x: {domain: [450, 550]},
  y: {type: "log", domain: yDomainBottom},
  marks: [
    ...seriesMarks(botPhaseI, botFitI, botPhaseII, botFitII),
    ...frameTicks(yTicksBottom, yDomainBottom, 285),
    Plot.frame({stroke: "#000", strokeWidth: 1.6}),
    Plot.axisY({ticks: yTicksBottom, tickSize: 0, tickPadding: 8, fontSize: 27, label: null, tickFormat: expFormat}),
    Plot.axisX({ticks: xTickLabels, tickSize: 0, tickPadding: 4, fontSize: 27, label: null, tickFormat: d => String(d)}),
    Plot.text([xTitle], {text: d => d, frameAnchor: "bottom", dy: 55, fontSize: 27}),
    Plot.text([fluxLabels[1]], {text: d => d, frameAnchor: "top-left", dx: 161, dy: 12, textAnchor: "start", fontSize: 26}),
    Plot.text([panelLabels[1]], {text: d => d, frameAnchor: "top-right", dx: -14, dy: 12, textAnchor: "end", fontSize: 26})
  ]
});

// rich text (sub/superscripts) for SVG text
function richify(svg) {
  svg.querySelectorAll("text").forEach(t => {
    const s = t.textContent;
    if (!/[\^_]\{/.test(s)) return;
    const fs = parseFloat(t.getAttribute("font-size")) || parseFloat(getComputedStyle(t).fontSize) || 24;
    while (t.firstChild) t.removeChild(t.firstChild);
    const re = /([\^_])\{([^}]*)\}|([^\^_]+)/g;
    let m, shift = 0;
    while ((m = re.exec(s))) {
      const ts = document.createElementNS("http://www.w3.org/2000/svg", "tspan");
      let target = 0;
      if (m[1]) {
        target = m[1] === "^" ? -0.42 * fs : 0.28 * fs;
        ts.setAttribute("font-size", (0.66 * fs).toFixed(1));
        ts.textContent = m[2];
      } else ts.textContent = m[3];
      if (Math.abs(target - shift) > 0.01) ts.setAttribute("dy", (target - shift).toFixed(2));
      shift = target;
      t.appendChild(ts);
    }
  });
}

const chart = document.getElementById("chart");
bottomPlot.style.top = "278px";
topPlot.style.top = "0px";
chart.appendChild(bottomPlot);
chart.appendChild(topPlot);
richify(topPlot);
richify(bottomPlot);

// y-axis title
const yt = document.createElement("div");
yt.id = "ytitle";
yt.innerHTML = "spectral radiance (W m<sup>-2</sup> sr<sup>-1</sup> nm<sup>-1</sup>)";
chart.appendChild(yt);

// legend
const legendStyles = [S.m1, S.f1, S.m2, S.f2];
const lg = document.createElement("div");
lg.id = "legend";
seriesNames.forEach((name, i) => {
  const row = document.createElement("div");
  row.className = "lrow";
  row.style.top = (2 + i * 28.5) + "px";
  const st = legendStyles[i];
  const sw = i === 0 ? "#555" : st.stroke;
  row.innerHTML = `<svg width="40" height="12"><line x1="${i === 1 ? 3 : 0}" y1="6" x2="40" y2="6" stroke="${sw}" stroke-width="${st.strokeWidth}" ${st.strokeDasharray ? `stroke-dasharray="${st.strokeDasharray}"` : ""} ${st.strokeLinecap ? `stroke-linecap="${st.strokeLinecap}"` : ""}/></svg><span>${name}</span>`;
  lg.appendChild(row);
});
chart.appendChild(lg);
</script>
</body>
</html>
